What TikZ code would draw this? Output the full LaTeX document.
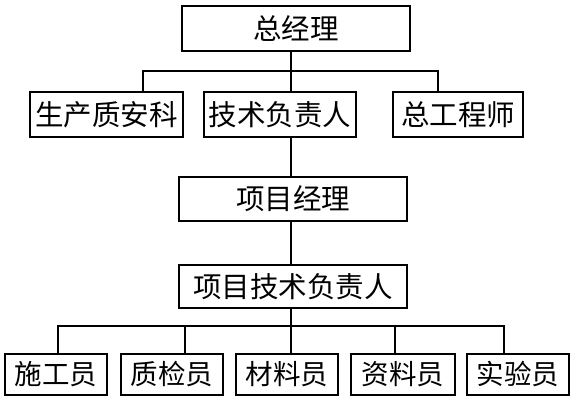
\documentclass[tikz,border=0pt]{standalone}
\usepackage{fontspec}
\newfontfamily\cjk{Noto Sans CJK SC}
\begin{document}
\begin{tikzpicture}[x=1pt,y=1pt,
  box/.style={draw=black,line width=1.6pt,inner sep=0pt,font=\cjk\fontsize{28.5}{28.5}\selectfont,text=black},
  sbox/.style={box,font=\cjk\fontsize{27.5}{27.5}\selectfont},
  conn/.style={line width=1.5pt,draw=black}]
\useasboundingbox (0,0) rectangle (576,-400);
% top
\node[box,minimum width=228,minimum height=45] (zjl) at (296,-28.5) {总经理};
\node[box,minimum width=153,minimum height=45] (scza) at (106.5,-114.5) {生产质安科};
\node[box,minimum width=152,minimum height=45] (jsfz) at (280,-114.5) {技术负责人};
\node[box,minimum width=130,minimum height=45] (zgcs) at (458,-114.5) {总工程师};
\node[box,minimum width=228,minimum height=44] (xmjl) at (293,-199) {项目经理};
\node[box,minimum width=228,minimum height=43] (xmjs) at (293,-286.5) {项目技术负责人};
% bottom
\node[sbox,minimum width=101.5,minimum height=41] (sgy) at (56,-374.5) {施工员};
\node[sbox,minimum width=102.5,minimum height=41] (zjy) at (172,-374.5) {质检员};
\node[sbox,minimum width=101.5,minimum height=41] (cly) at (287,-374.5) {材料员};
\node[sbox,minimum width=104,minimum height=41] (zly) at (403,-374.5) {资料员};
\node[sbox,minimum width=102,minimum height=41] (syy) at (518,-374.5) {实验员};
% junction coordinates
\coordinate (c1) at (291,-71);
\coordinate (l1) at (143,-71);
\coordinate (r1) at (438,-71);
\coordinate (c2) at (291,-326);
\coordinate (b1) at (58,-326);
\coordinate (b2) at (185,-326);
\coordinate (b4) at (395,-326);
\coordinate (b5) at (504,-326);
% upper connectors
\draw[conn] (c1 |- zjl.south) -- (c1 |- jsfz.north);
\draw[conn] (l1 |- scza.north) -- (l1) -- (r1) -- (r1 |- zgcs.north);
\draw[conn] (c1 |- jsfz.south) -- (c1 |- xmjl.north);
\draw[conn] (c1 |- xmjl.south) -- (c1 |- xmjs.north);
\draw[conn] (c2 |- xmjs.south) -- (c2) -- (c2 |- cly.north);
\draw[conn] (b1 |- sgy.north) -- (b1) -- (b5) -- (b5 |- syy.north);
\draw[conn] (b2) -- (b2 |- zjy.north);
\draw[conn] (b4) -- (b4 |- zly.north);
\end{tikzpicture}
\end{document}
